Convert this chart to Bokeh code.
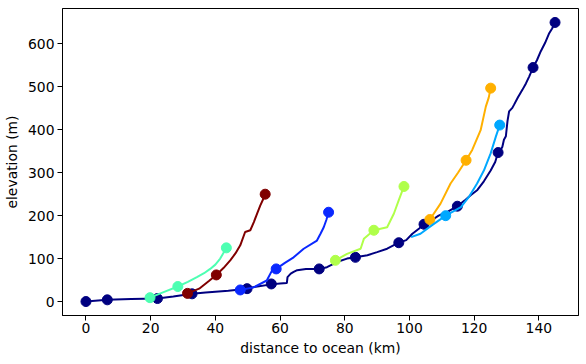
from bokeh.plotting import figure
from bokeh.models import Range1d, FixedTicker
from bokeh.embed import file_html
from bokeh.resources import INLINE

# main stem (navy)
main_x = [0, 6.6, 14, 22.1, 27, 32.8, 37, 40, 44, 47.7, 49.8, 53, 57.3, 60, 62.1, 62.3, 63.3, 64.2, 65.3, 68,
          72.1, 74.5, 77.6, 80.7, 83.3, 87, 90, 93.1, 96.7, 99, 100.9, 103, 104.5, 107, 109, 112, 114.8, 117,
          119, 121, 123, 125.1, 126.5, 127.4, 128.3, 128.7, 129.2, 129.8, 130.3, 130.8, 131.8, 132.3, 133.5,
          134.9, 136, 137, 138.2, 139.4, 140.6, 141.9, 143.2, 144.1, 145]
main_y = [0, 4, 6, 7, 12, 18, 21, 23, 25, 28, 31, 35, 40, 42, 43, 57, 65, 69, 73, 76,
          76, 80, 92, 100, 103, 108, 115, 123, 137, 143, 158, 170, 180, 190, 200, 210, 222, 235,
          248, 260, 280, 305, 325, 347, 355, 360, 377, 385, 420, 443, 451, 458, 475,
          493, 508, 524, 545, 562, 583, 602, 625, 636, 650]
main_mx = [0, 6.6, 22.1, 32.8, 49.8, 57.3, 72.1, 83.3, 96.7, 104.5, 114.8, 127.4, 138.2, 145]
main_my = [0, 4, 7, 18, 30, 41, 76, 103, 137, 180, 222, 347, 545, 650]

# tributaries
cyan_x = [19.8, 24, 28.4, 31.5, 34.3, 36.5, 38.4, 40, 41.5, 43.4]
cyan_y = [9, 22, 35, 46, 57, 66, 76, 86, 100, 125]
cyan_mx = [19.8, 28.4, 43.4]
cyan_my = [9, 35, 125]

maroon_x = [31.4, 35, 38, 40.3, 42.5, 44.6, 46.2, 47.7, 49.2, 50.8, 51.9, 52.9, 53.9, 54.7, 55.4]
maroon_y = [19, 30, 48, 62, 78, 96, 112, 131, 162, 166, 185, 205, 224, 237, 250]
maroon_mx = [31.4, 40.3, 55.4]
maroon_my = [19, 62, 250]

blue_x = [47.7, 51.8, 55.9, 57.5, 58.8, 61.5, 64.2, 67.3, 71.4, 72.5, 73.5, 74.3, 75]
blue_y = [27, 33, 49, 72, 76, 90, 103, 123, 142, 158, 173, 190, 208]
blue_mx = [47.7, 58.8, 75]
blue_my = [27, 76, 208]

yg_x = [77.1, 80.7, 84.9, 85.9, 89, 93.1, 95.2, 96.7, 98.3]
yg_y = [96, 111, 123, 146, 166, 173, 205, 236, 268]
yg_mx = [77.1, 89, 98.3]
yg_my = [96, 166, 268]

orange_x = [106.3, 109.6, 112.7, 115, 117.5, 119.4, 122, 123.6, 124.5, 125.1]
orange_y = [191, 228, 275, 300, 329, 353, 399, 454, 475, 497]
orange_mx = [106.3, 117.5, 125.1]
orange_my = [191, 329, 497]

lblue_x = [100.5, 103.4, 107, 111.2, 115.9, 118.5, 120.9, 123, 125.1, 126.7, 127.9]
lblue_y = [150, 158, 178, 200, 220, 245, 275, 305, 345, 384, 411]
lblue_mx = [111.2, 127.9]
lblue_my = [200, 411]

x_ticks = [0, 20, 40, 60, 80, 100, 120, 140]
y_ticks = [0, 100, 200, 300, 400, 500, 600]

rivers = [
    (main_x, main_y, main_mx, main_my, "#000080"),
    (cyan_x, cyan_y, cyan_mx, cyan_my, "#4dffb2"),
    (maroon_x, maroon_y, maroon_mx, maroon_my, "#800000"),
    (blue_x, blue_y, blue_mx, blue_my, "#0a28ff"),
    (yg_x, yg_y, yg_mx, yg_my, "#b0ff4a"),
    (orange_x, orange_y, orange_mx, orange_my, "#ffb000"),
    (lblue_x, lblue_y, lblue_mx, lblue_my, "#00a8ff"),
]

p = figure(width=586, height=364, output_backend="svg", toolbar_location=None,
           x_range=Range1d(-7.25, 152.25), y_range=Range1d(-32.5, 682.5),
           min_border_left=62, min_border_right=8, min_border_top=8, min_border_bottom=49)

for xs, ys, mx, my, c in rivers:
    p.line(xs, ys, line_color=c, line_width=2)
    p.scatter(mx, my, size=10, fill_color=c, line_color=c)

p.grid.visible = False
p.outline_line_color = "black"
p.outline_line_width = 1
p.background_fill_color = "white"

for ax, ticks in ((p.xaxis, x_ticks), (p.yaxis, y_ticks)):
    ax.ticker = FixedTicker(ticks=ticks)
    ax.minor_tick_line_color = None
    ax.major_tick_in = 0
    ax.major_tick_out = 5
    ax.major_tick_line_color = "black"
    ax.axis_line_color = "black"
    ax.major_label_text_font = "DejaVu Sans"
    ax.major_label_text_font_size = "13.9px"
    ax.major_label_text_color = "black"
    ax.axis_label_text_font = "DejaVu Sans"
    ax.axis_label_text_font_size = "13.9px"
    ax.axis_label_text_font_style = "normal"
    ax.axis_label_text_color = "black"

p.xaxis.axis_label = "distance to ocean (km)"
p.yaxis.axis_label = "elevation (m)"
p.xaxis.major_label_standoff = 2
p.xaxis.axis_label_standoff = 4
p.yaxis.major_label_standoff = 3
p.yaxis.axis_label_standoff = 5

open("out.html", "w").write(file_html(p, INLINE))
